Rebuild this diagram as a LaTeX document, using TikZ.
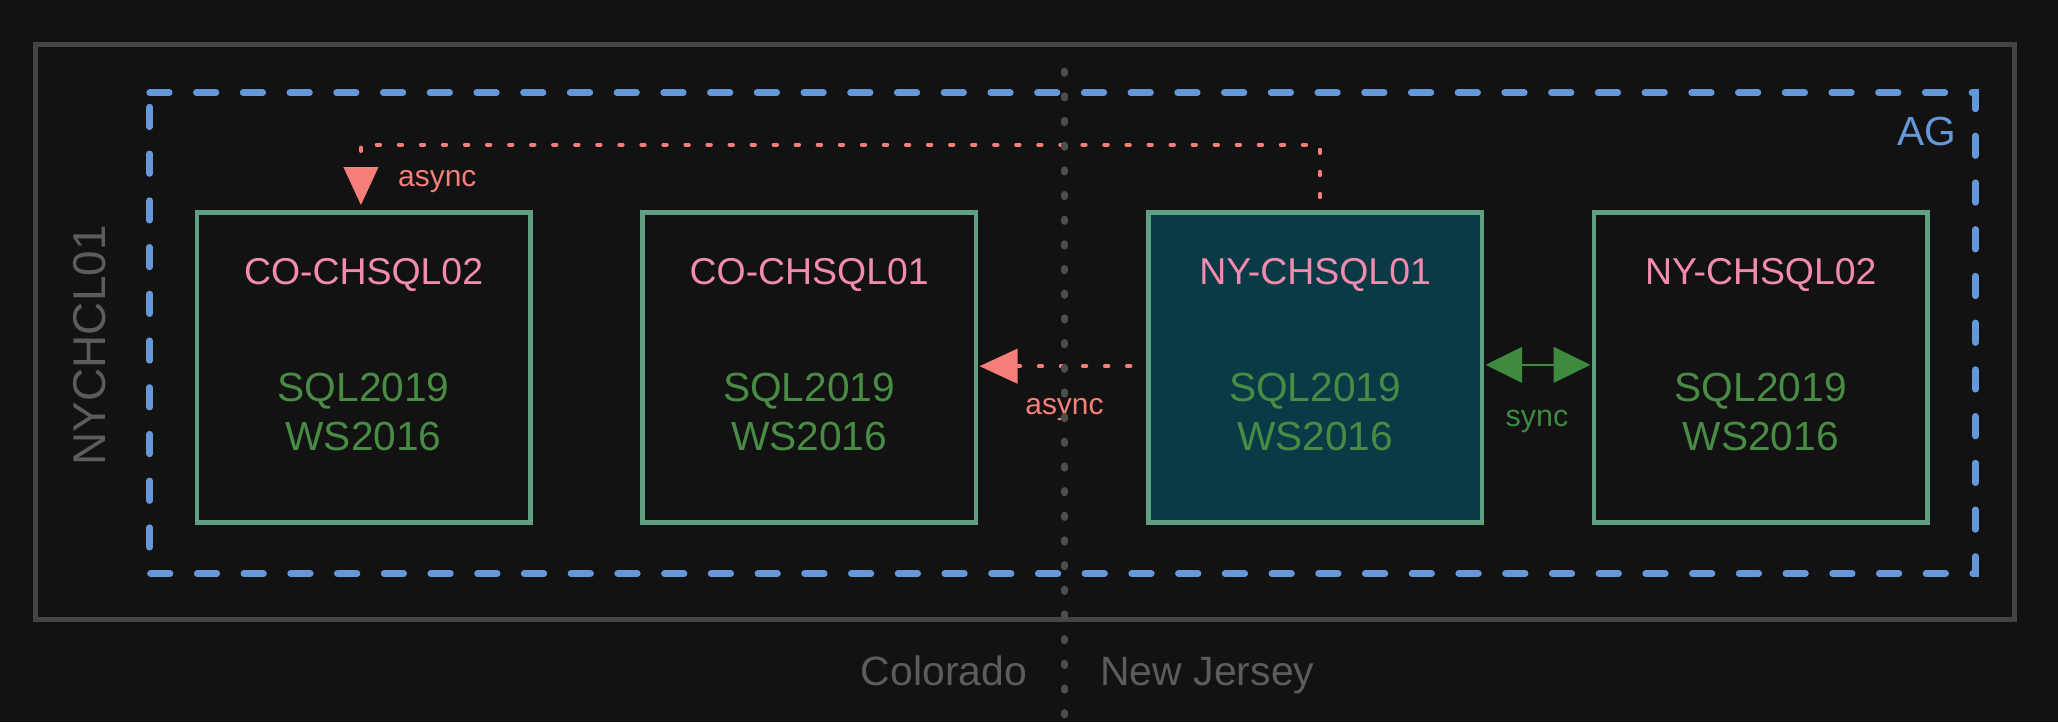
\documentclass[tikz,border=0pt]{standalone}
\usepackage{fontspec}
\setmainfont{Liberation Sans}
\usetikzlibrary{arrows.meta,calc}
\definecolor{bgc}{HTML}{121212}
\definecolor{outergray}{HTML}{444444}
\definecolor{divgray}{HTML}{4D4D4D}
\definecolor{lblgray}{HTML}{5C5C5C}
\definecolor{agblue}{HTML}{6598DA}
\definecolor{boxgreen}{HTML}{5FA082}
\definecolor{tealfill}{HTML}{0A3A46}
\definecolor{namepink}{HTML}{F28BAD}
\definecolor{infogreen}{HTML}{488C44}
\definecolor{salmon}{HTML}{F77F79}
\definecolor{syncgreen}{HTML}{3E8A3E}
\begin{document}
\begin{tikzpicture}[x=0.5pt,y=-0.5pt,
  srvbox/.style={draw=boxgreen, line width=1.75pt, minimum width=127pt, minimum height=118pt, inner sep=0pt},
  srvname/.style={text=namepink, font=\fontsize{14.25}{17}\selectfont, inner sep=0pt, anchor=base},
  srvinfo/.style={text=infogreen, font=\fontsize{15.5}{18.5}\selectfont, align=center, inner sep=0pt},
  asyncline/.style={draw=salmon, line width=1.5pt, line cap=round, dash pattern=on 1.3pt off 7.1pt, -{Triangle[length=14.5pt,width=13pt]}},
  syncline/.style={draw=syncgreen, line width=1pt, {Triangle[length=14pt,width=13.5pt]}-{Triangle[length=14pt,width=13.5pt]}},
  asynclbl/.style={text=salmon, font=\fontsize{11.4}{13}\selectfont, inner sep=0pt},
  synclbl/.style={text=syncgreen, font=\fontsize{11.6}{13}\selectfont, inner sep=0pt},
  regionlbl/.style={text=lblgray, font=\fontsize{15.6}{18}\selectfont, inner sep=0pt},
  outerframe/.style={draw=outergray, line width=1.8pt},
  agframe/.style={draw=agblue, line width=2.5pt, line cap=round, dash pattern=on 7.5pt off 10.3pt},
  divline/.style={draw=divgray, line width=2.5pt, line cap=round, dash pattern=on 1pt off 8.4pt}
]
\fill[bgc] (0,0) rectangle (1568,550.1);
\useasboundingbox (0,0) rectangle (1568,550.1);

% outer cluster frame
\draw[outerframe] (27,34) rectangle (1535,472);
\node[text=lblgray, font=\fontsize{17.5}{20}\selectfont, rotate=90, inner sep=0pt] (cluster) at (68,263) {NYCHCL01};

% availability group frame
\draw[agframe] (114,70.6) -- (1505,70.6) -- (1505,437) -- (114,437) -- cycle;
\node[text=agblue, font=\fontsize{15.5}{18}\selectfont, anchor=base east, inner sep=0pt] (ag) at (1491,110.5) {AG};

% servers
\node[srvbox] (co2) at (277,280) {};
\node[srvbox] (co1) at (616.5,280) {};
\node[srvbox, fill=tealfill] (ny1) at (1002,280) {};
\node[srvbox] (ny2) at (1341.5,280) {};

\node[srvname] (co2n) at (277,216.4) {CO-CHSQL02};
\node[srvname] (co1n) at (616.5,216.4) {CO-CHSQL01};
\node[srvname] (ny1n) at (1002,216.4) {NY-CHSQL01};
\node[srvname] (ny2n) at (1341.5,216.4) {NY-CHSQL02};

\node[srvinfo] (co2i) at (277,313.7) {SQL2019\\WS2016};
\node[srvinfo] (co1i) at (616.5,313.7) {SQL2019\\WS2016};
\node[srvinfo] (ny1i) at (1002,313.7) {SQL2019\\WS2016};
\node[srvinfo] (ny2i) at (1341.5,313.7) {SQL2019\\WS2016};

% connectors
\draw[asyncline, shorten <=5pt, shorten >=2pt] ([xshift=1.8pt]ny1.north) -- ++(0,-50) -| ([xshift=-1pt]co2.north);
\node[asynclbl, anchor=base west] (asyncTop) at (303,142) {async};

\draw[asyncline, shorten <=6pt, shorten >=0.5pt] ([yshift=0.5pt]ny1.west) -- ([yshift=0.5pt]co1.east);
\node[asynclbl, anchor=base] (asyncMid) at (811,316) {async};

\draw[syncline, shorten <=0.5pt, shorten >=0.5pt] ([yshift=1pt]ny1.east) -- ([yshift=1pt]ny2.west);
\node[synclbl, anchor=base] (syncLbl) at (1171,325) {sync};

% region divider
\draw[divline] (811,54) -- (811,552);
\node[regionlbl, anchor=base east] (colo) at (783,522) {Colorado};
\node[regionlbl, anchor=base west] (nj) at (838,522) {New Jersey};
\end{tikzpicture}
\end{document}
